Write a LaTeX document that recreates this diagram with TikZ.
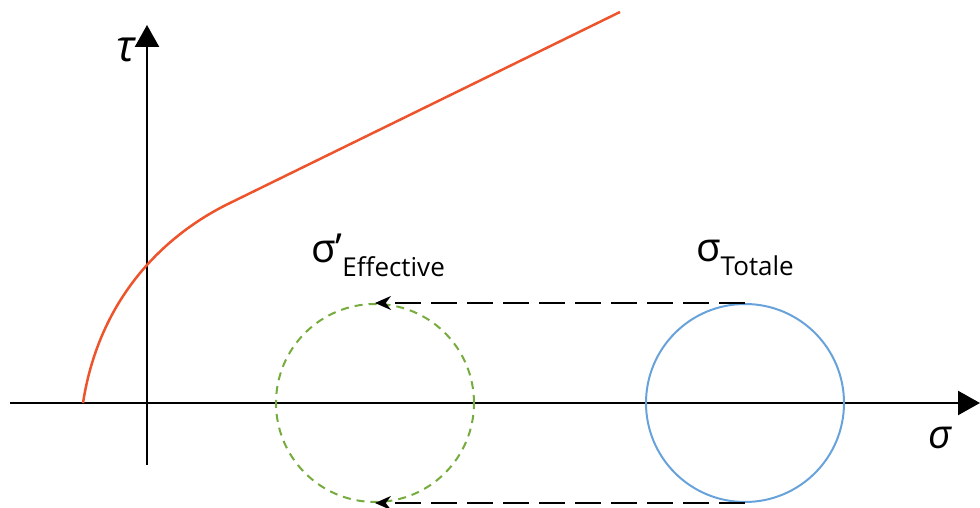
\documentclass[tikz,border=0pt]{standalone}
\usepackage{fontspec}
\setmainfont{Open Sans}
\usepackage{xcolor}
\usetikzlibrary{arrows.meta}
\usetikzlibrary{positioning, shapes.geometric}
\definecolor{envred}{RGB}{238,84,44}
\definecolor{effgreen}{RGB}{118,172,62}
\definecolor{totblue}{RGB}{104,162,218}

\begin{document}
\begin{tikzpicture}[x=0.5pt,y=0.5pt,
    axis/.style={line width=1.2pt, -{Triangle[length=11pt,width=12pt]}},
    mohr/.style={circle, line width=1pt, minimum size=99pt, inner sep=0pt},
    shift arrow/.style={line width=0.9pt, dash pattern=on 13pt off 5pt, -{Stealth[length=8pt,width=7pt]}}]
    \useasboundingbox (0,0) rectangle (980,508);
    % axes
    \coordinate (o) at (147,105);
    \coordinate (xl) at (10,105);
    \coordinate (xr) at (980,105);
    \coordinate (yb) at (147,43);
    \coordinate (yt) at (147,483);
    \draw[axis] (xl) -- (xr);
    \draw[axis] (yb) -- (yt);
    \node (tau) at (126,458) {\fontsize{22}{22}\selectfont\itshape τ};
    \node (sigma) at (940,70) {\fontsize{20}{20}\selectfont\itshape σ};
    % failure envelope
    \coordinate (e0) at (83,105);
    \coordinate (e1) at (230,305);
    \coordinate (e2) at (620,496);
    \draw[envred, line width=1.25pt] (e0) .. controls (100,215) and (170,276) .. (e1) -- (e2);
    % Mohr circles
    \node[mohr, draw=effgreen, dash pattern=on 4pt off 3pt] (eff) at (375,105) {};
    \node[mohr, draw=totblue] (tot) at (745,105) {};
    \draw[shift arrow] (tot.north) -- (eff.north);
    \draw[shift arrow] (tot.south) -- (eff.south);
    \node (efflabel) at (378,253) {\fontsize{20}{20}\selectfont σ’\raisebox{-7pt}{\fontsize{13}{13}\selectfont Effective}};
    \node (totlabel) at (745,250) {\fontsize{20}{20}\selectfont σ\raisebox{-7pt}{\fontsize{13}{13}\selectfont Totale}};
\end{tikzpicture}
\end{document}
